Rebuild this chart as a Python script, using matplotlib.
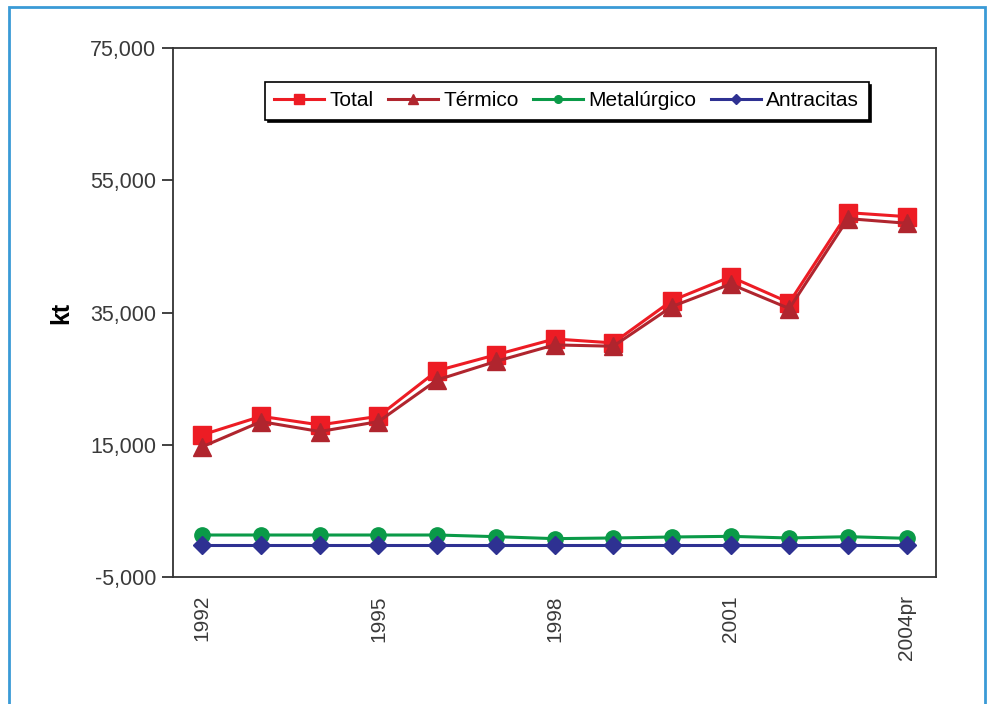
import matplotlib.pyplot as plt
import numpy as np
from matplotlib.patches import Rectangle

years = ["1992", "1993", "1994", "1995", "1996", "1997", "1998",
         "1999", "2000", "2001", "2002", "2003", "2004pr"]
shown_labels = ["1992", "1995", "1998", "2001", "2004pr"]

total = [16500, 19300, 18000, 19300, 26200, 28600, 31000,
         30400, 36800, 40400, 36500, 50100, 49500]
termico = [14700, 18500, 17000, 18500, 24800, 27600, 30100,
           29900, 35900, 39300, 35600, 49200, 48500]
metalurgico = [1350, 1350, 1350, 1350, 1350, 1100, 800,
               900, 1050, 1150, 900, 1100, 850]
antracitas = [-200] * 13

yticks = [-5000, 15000, 35000, 55000, 75000]

plt.rcParams["font.family"] = ["Liberation Sans", "DejaVu Sans"]

fig = plt.figure(figsize=(9.91, 7.04), dpi=100)
ax = fig.add_axes([0.1746, 0.1804, 0.7699, 0.7514])

x = np.arange(len(years))
series = [
    ("Total", total, "#ed1c24", "s", 13),
    ("Térmico", termico, "#b0252e", "^", 13),
    ("Metalúrgico", metalurgico, "#0a9a48", "o", 11),
    ("Antracitas", antracitas, "#2e3192", "D", 9.5),
]
for name, vals, col, mk, ms in series:
    ax.plot(x, vals, color=col, lw=2.2, marker=mk, markersize=ms,
            markeredgecolor=col, label=name)

ax.set_xlim(-0.5, len(years) - 0.5)
ax.set_ylim(-5000, 75000)
ax.set_yticks(yticks)
ax.set_yticklabels([f"{v:,}" for v in yticks])
pos = [years.index(l) for l in shown_labels]
ax.set_xticks(pos)
ax.set_xticklabels(shown_labels, rotation=90)
ax.tick_params(axis="x", length=0, pad=13, labelsize=15, labelcolor="#3a3a3a")
ax.tick_params(axis="y", length=8, width=1.3, pad=4, labelsize=15.5,
               labelcolor="#3a3a3a", color="#333333")
for s in ax.spines.values():
    s.set_color("#333333")
    s.set_linewidth(1.3)
ax.set_ylabel("kt", fontsize=18, fontweight="bold", labelpad=12)

leg = ax.legend(loc="upper center", bbox_to_anchor=(0.516, 0.936), ncol=4,
                frameon=True, fancybox=False, fontsize=15, handlelength=2.4,
                handletextpad=0.25, columnspacing=0.7, markerscale=0.5,
                borderpad=0.45, borderaxespad=0,
                shadow={"color": "black", "alpha": 1})
leg.get_frame().set_edgecolor("black")
leg.get_frame().set_linewidth(1.2)

fig.patches.append(Rectangle((9 / 991, -0.05), 976 / 991, 1.05 - 7 / 704,
                             transform=fig.transFigure, fill=False,
                             edgecolor="#3a9ad6", linewidth=2))

fig.savefig("out.png", dpi=100)
